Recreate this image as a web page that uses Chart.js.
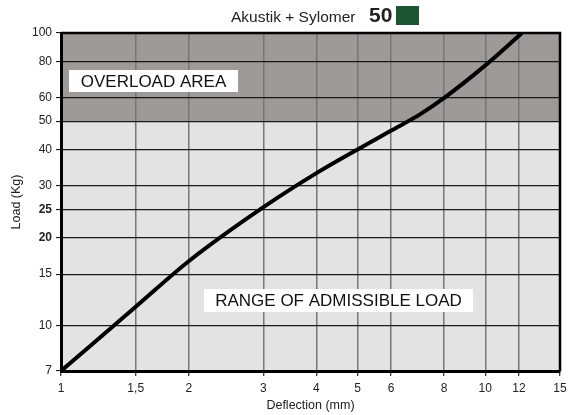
<!DOCTYPE html>
<html>
<head>
<meta charset="utf-8">
<script src="https://cdn.jsdelivr.net/npm/chart.js@4/dist/chart.umd.min.js"></script>
<style>
  body { margin: 0; background: #fff; }
  canvas { display: block; }
</style>
</head>
<body>
<canvas id="loadChart" width="568" height="415"></canvas>
<script>
// curve (deflection in mm, load in kg)
const deflection = [1, 1.5, 2, 3, 4, 5, 6, 7, 8, 10, 12.2];
const load = [7, 11.6, 16.6, 25.4, 33.2, 40, 46.4, 52.6, 60, 77.5, 100];

const xTicks = [1, 1.5, 2, 3, 4, 5, 6, 8, 10, 12, 15];
const yTicks = [7, 10, 15, 20, 25, 30, 40, 50, 60, 80, 100];
const boldYTicks = [20, 25];

const overloadFrom = 50;
const overloadTo = 100;

const FONT = "'Liberation Sans', Arial, sans-serif";

const areaPlugin = {
  id: 'areas',
  beforeDraw(chart) {
    const { ctx, chartArea: a, scales } = chart;
    ctx.save();
    ctx.fillStyle = '#e3e3e3';
    ctx.fillRect(a.left, a.top, a.right - a.left, a.bottom - a.top);
    const yTop = scales.y.getPixelForValue(overloadTo);
    const yBot = scales.y.getPixelForValue(overloadFrom);
    ctx.fillStyle = '#9d9a97';
    ctx.fillRect(a.left, yTop, a.right - a.left, yBot - yTop);
    ctx.restore();
  },
  beforeDatasetsDraw(chart) {
    const { ctx } = chart;
    ctx.save();
    ctx.font = '17px ' + FONT;
    ctx.textAlign = 'center';
    ctx.textBaseline = 'middle';
    const boxes = [
      { text: 'OVERLOAD AREA', cx: 153.5, cy: 81, w: 169, h: 22 },
      { text: 'RANGE OF ADMISSIBLE LOAD', cx: 338.5, cy: 300.5, w: 269, h: 23 }
    ];
    boxes.forEach(b => {
      ctx.fillStyle = '#fff';
      ctx.fillRect(b.cx - b.w / 2, b.cy - b.h / 2, b.w, b.h);
      ctx.fillStyle = '#111';
      ctx.fillText(b.text, b.cx, b.cy + 1);
    });
    ctx.restore();
  },
  afterDraw(chart) {
    const { ctx, chartArea: a } = chart;
    ctx.save();
    ctx.strokeStyle = '#000';
    ctx.lineWidth = 2.5;
    ctx.beginPath();
    ctx.moveTo(a.left, a.top);
    ctx.lineTo(a.right, a.top);
    ctx.lineTo(a.right, a.bottom);
    ctx.stroke();

    // title
    ctx.fillStyle = '#222';
    ctx.textBaseline = 'alphabetic';
    ctx.textAlign = 'left';
    ctx.font = '15.5px ' + FONT;
    ctx.fillText('Akustik + Sylomer', 231, 21.5);
    ctx.font = 'bold 21px ' + FONT;
    ctx.fillText('50', 369, 22);
    ctx.fillStyle = '#1b5632';
    ctx.fillRect(396, 6, 23, 19);
    ctx.restore();
  }
};

new Chart(document.getElementById('loadChart').getContext('2d'), {
  type: 'line',
  data: {
    datasets: [{
      data: deflection.map((d, i) => ({ x: d, y: load[i] })),
      borderColor: '#000',
      borderWidth: 4,
      pointRadius: 0,
      cubicInterpolationMode: 'monotone',
      fill: false
    }]
  },
  options: {
    responsive: false,
    animation: false,
    layout: { padding: { top: 33, right: 8, left: 0, bottom: 0 } },
    plugins: {
      legend: { display: false },
      tooltip: { enabled: false }
    },
    scales: {
      x: {
        type: 'logarithmic',
        min: 1,
        max: 15,
        afterBuildTicks: s => { s.ticks = xTicks.map(v => ({ value: v })); },
        afterFit: s => {
          s.height = 44;
          s.paddingLeft = 0;
          s.paddingRight = 0;
        },
        border: { display: true, width: 3, color: '#000' },
        grid: { color: '#777', lineWidth: 1.5, tickColor: '#000', tickLength: 5, tickWidth: 1 },
        ticks: {
          autoSkip: false,
          maxRotation: 0,
          padding: 5,
          color: '#222',
          font: { family: FONT, size: 12 },
          callback: v => String(v).replace('.', ',')
        },
        title: {
          display: true,
          text: 'Deflection (mm)',
          color: '#222',
          font: { family: FONT, size: 12.5 },
          padding: { top: 0, bottom: 2 }
        }
      },
      y: {
        type: 'logarithmic',
        min: 7,
        max: 100,
        afterBuildTicks: s => { s.ticks = yTicks.map(v => ({ value: v })); },
        afterFit: s => { s.width = 61; },
        border: { display: true, width: 3, color: '#000' },
        grid: { color: '#1a1a1a', lineWidth: 1.2, tickColor: '#000', tickLength: 5, tickWidth: 1 },
        ticks: {
          autoSkip: false,
          padding: 4,
          color: '#222',
          font: c => ({
            family: FONT,
            size: 12,
            weight: boldYTicks.includes(c.tick && c.tick.value) ? 'bold' : 'normal'
          }),
          callback: v => String(v)
        },
        title: {
          display: true,
          text: 'Load (Kg)',
          color: '#222',
          font: { family: FONT, size: 12.5 },
          padding: { top: 9, bottom: 0 }
        }
      }
    }
  },
  plugins: [areaPlugin]
});
</script>
</body>
</html>
